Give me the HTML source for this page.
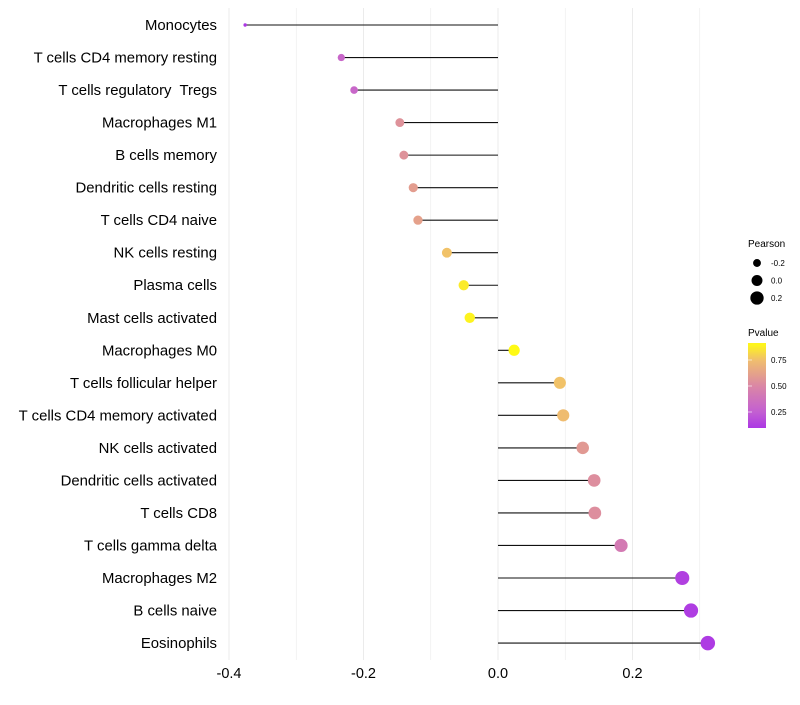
<!DOCTYPE html>
<html><head><meta charset="utf-8"><style>
body{margin:0;background:#fff;font-family:"Liberation Sans",sans-serif}
svg text{font-family:"Liberation Sans",sans-serif;white-space:pre}
</style></head><body>
<svg id="chart" width="800" height="700"></svg>
<script>
const categories=["Monocytes","T cells CD4 memory resting","T cells regulatory  Tregs","Macrophages M1","B cells memory","Dendritic cells resting","T cells CD4 naive","NK cells resting","Plasma cells","Mast cells activated","Macrophages M0","T cells follicular helper","T cells CD4 memory activated","NK cells activated","Dendritic cells activated","T cells CD8","T cells gamma delta","Macrophages M2","B cells naive","Eosinophils"];
const pearson=[-0.376,-0.233,-0.214,-0.146,-0.140,-0.126,-0.119,-0.076,-0.051,-0.042,0.024,0.092,0.097,0.126,0.143,0.144,0.183,0.274,0.287,0.312];
const pvalue=[0.1,0.3,0.3,0.55,0.55,0.6,0.62,0.76,0.87,0.89,0.92,0.76,0.74,0.58,0.53,0.53,0.42,0.13,0.12,0.11];
const xTicks=[-0.4,-0.2,0.0,0.2];
const xTickLabels=["-0.4","-0.2","0.0","0.2"];
const sizeLegend=[-0.2,0.0,0.2];
const colorTicks=[0.25,0.5,0.75];

const NS="http://www.w3.org/2000/svg";
const svg=document.getElementById('chart');
function mk(t,a,p){const e=document.createElementNS(NS,t);for(const k in a)e.setAttribute(k,a[k]);(p||svg).appendChild(e);return e;}
const X=v=>498+v*672.5;
const Y=i=>25+i*32.53;
const R=v=>Math.sqrt(Math.max(1.5,30+72*v));
const stops=[[0.1,[172,56,228]],[0.25,[195,95,210]],[0.5,[218,135,165]],[0.75,[240,190,110]],[0.91,[255,250,20]]];
function col(p){if(p<=stops[0][0])return`rgb(${stops[0][1]})`;for(let i=1;i<stops.length;i++){if(p<=stops[i][0]){const a=stops[i-1],b=stops[i],t=(p-a[0])/(b[0]-a[0]);return`rgb(${a[1].map((c,j)=>Math.round(c+(b[1][j]-c)*t)).join(',')})`;}}return`rgb(${stops[stops.length-1][1]})`;}
const Yc=p=>412-(p-0.25)*104;

for(let v=-0.4;v<=0.31;v+=0.1){
  const g=mk('line',{x1:X(v),x2:X(v),y1:8,y2:660,stroke:'#ebebeb','stroke-width':Math.abs(Math.round(v*10))%2==0?1:0.6});
  
  
}
xTicks.forEach((v,i)=>{
  const t=mk('text',{x:X(v),y:678,'text-anchor':'middle','font-size':14.5,fill:'#000'});t.textContent=xTickLabels[i];
  
  
});
categories.forEach((c,i)=>{
  const t=mk('text',{x:217,y:Y(i)+5,'text-anchor':'end','font-size':14.9,fill:'#000'});t.textContent=c;
  
  
  const l=mk('line',{x1:X(0),x2:X(pearson[i]),y1:Y(i),y2:Y(i),stroke:'#111','stroke-width':1.1});
  
  
  const d=mk('circle',{cx:X(pearson[i]),cy:Y(i),r:R(pearson[i]),fill:col(pvalue[i])});
  
  
});
let t=mk('text',{x:748,y:247,'font-size':10});t.textContent='Pearson';


sizeLegend.forEach((v,i)=>{
  const c=mk('circle',{cx:757,cy:263+i*17.5,r:R(v),fill:'#000'});
  
  
  const tt=mk('text',{x:771,y:266+i*17.5,'font-size':8});tt.textContent=v.toFixed(1);
  
  
});
t=mk('text',{x:748,y:336,'font-size':10});t.textContent='Pvalue';


const defs=mk('defs',{});
const lg=mk('linearGradient',{id:'pg',x1:0,y1:1,x2:0,y2:0},defs);
for(let p=0.096;p<=0.92;p+=0.05){mk('stop',{offset:(p-0.096)/0.82,'stop-color':col(p)},lg);}
const bar=mk('rect',{x:748,y:343,width:18,height:85,fill:'url(#pg)'});


colorTicks.forEach(p=>{
  const tk=mk('line',{x1:748,x2:752,y1:Yc(p),y2:Yc(p),stroke:'#fff','stroke-opacity':0.6});
  
  
  const tt=mk('text',{x:771,y:Yc(p)+3,'font-size':8});tt.textContent=p.toFixed(2);
  
  
});
</script>
</body></html>
